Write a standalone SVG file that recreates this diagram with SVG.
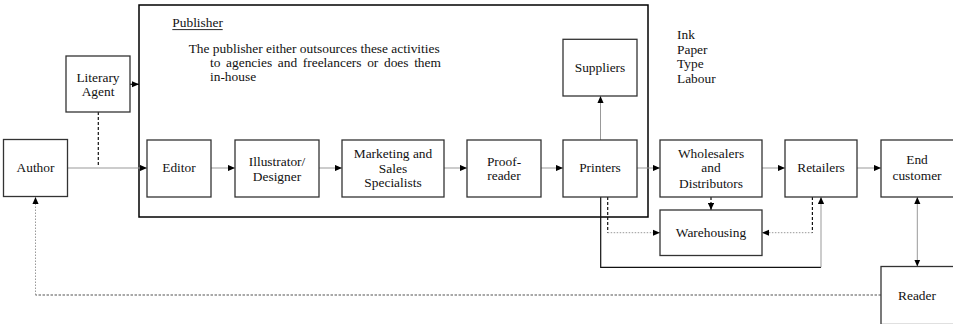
<svg xmlns="http://www.w3.org/2000/svg" width="953" height="324" viewBox="0 0 953 324">
  <defs>
    <marker id="arrow" viewBox="0 0 8 7" refX="8" refY="3.5" markerWidth="7" markerHeight="6.5" markerUnits="userSpaceOnUse" orient="auto-start-reverse">
      <path d="M0,0 L8,3.5 L0,7 z" fill="#000"/>
    </marker>
    <style>
      .box { fill: #fff; stroke: #333; stroke-width: 1.3; }
      .frame { fill: none; stroke: #000; stroke-width: 1.5; }
      .lbl { font-family: "Liberation Serif", "Times New Roman", serif; font-size: 13.4px; fill: #111; text-anchor: middle; }
      .txt { font-family: "Liberation Serif", "Times New Roman", serif; font-size: 13.4px; fill: #111; }
      .flow { fill: none; stroke: #999; stroke-width: 1; }
      .dark { fill: none; stroke: #111; stroke-width: 1.2; }
      .dash { fill: none; stroke: #111; stroke-width: 1.2; stroke-dasharray: 3 2; }
      .dot { fill: none; stroke: #999; stroke-width: 1; stroke-dasharray: 1.5 1.5; }
      .dotdark { fill: none; stroke: #555; stroke-width: 1.2; stroke-dasharray: 2.5 1.5; }
    </style>
  </defs>

  <!-- publisher frame -->
  <g id="publisher">
    <rect class="frame" x="139" y="5" width="509" height="212"/>
    <text class="txt" x="172.3" y="26.7">Publisher</text>
    <line x1="172.3" y1="29.6" x2="222.7" y2="29.6" stroke="#111" stroke-width="0.9"/>
    <text class="txt" x="188.7" y="52.7">The publisher either outsources these activities</text>
    <text class="txt" x="210" y="66.7" word-spacing="2.3">to agencies and freelancers or does them</text>
    <text class="txt" x="210" y="81">in-house</text>
  </g>

  <!-- supplier inputs -->
  <g id="inputs">
    <text class="txt" x="677" y="39.3">Ink</text>
    <text class="txt" x="677" y="54">Paper</text>
    <text class="txt" x="677" y="68.4">Type</text>
    <text class="txt" x="677" y="82.7">Labour</text>
  </g>

  <!-- connectors -->
  <g id="connectors">
    <path class="flow" d="M67.5,168 H147" marker-end="url(#arrow)"/>
    <path class="dash" d="M98.3,112 V167"/>
    <path class="dark" d="M130,84.3 H139" marker-end="url(#arrow)"/>
    <path class="flow" d="M211,168 H235" marker-end="url(#arrow)"/>
    <path class="flow" d="M319,168 H342" marker-end="url(#arrow)"/>
    <path class="flow" d="M444,168 H467" marker-end="url(#arrow)"/>
    <path class="flow" d="M541,168 H563" marker-end="url(#arrow)"/>
    <path class="flow" d="M600.5,140 V96" marker-end="url(#arrow)"/>
    <path class="flow" d="M637,168 H660" marker-end="url(#arrow)"/>
    <path class="flow" d="M762,168 H785" marker-end="url(#arrow)"/>
    <path class="flow" d="M857,168 H881" marker-end="url(#arrow)"/>
    <path class="dash" d="M711,197 V210" marker-end="url(#arrow)"/>
    <path class="dash" d="M607.7,197 V232.7"/>
    <path class="dot" d="M607.7,232.7 H660" marker-end="url(#arrow)"/>
    <path class="dash" d="M812.4,197 V232.7"/>
    <path class="dot" d="M812.4,232.7 H762" marker-end="url(#arrow)"/>
    <path class="dark" d="M600.7,197 V267.3 H821"/>
    <path class="flow" d="M821,267.3 V197" marker-end="url(#arrow)"/>
    <path class="flow" d="M917.3,197 V266.5" marker-start="url(#arrow)" marker-end="url(#arrow)"/>
    <path class="dotdark" d="M881,295 H35.5"/>
    <path class="dot" d="M35.5,295 V197" marker-end="url(#arrow)"/>
  </g>

  <g id="author">
    <rect class="box" x="3.5" y="139.5" width="64" height="57"/>
    <text class="lbl" x="35.5" y="172">Author</text>
  </g>
  <g id="literary-agent">
    <rect class="box" x="66" y="56" width="64" height="56"/>
    <text class="lbl" x="98" y="82.3">Literary</text>
    <text class="lbl" x="98" y="96">Agent</text>
  </g>
  <g id="editor">
    <rect class="box" x="147" y="140" width="64" height="57"/>
    <text class="lbl" x="179" y="172.3">Editor</text>
  </g>
  <g id="illustrator">
    <rect class="box" x="235" y="140" width="84" height="57"/>
    <text class="lbl" x="277" y="166">Illustrator/</text>
    <text class="lbl" x="277" y="180.5">Designer</text>
  </g>
  <g id="marketing">
    <rect class="box" x="342" y="140" width="102" height="57"/>
    <text class="lbl" x="393" y="158.3">Marketing and</text>
    <text class="lbl" x="393" y="172.7">Sales</text>
    <text class="lbl" x="393" y="187.3">Specialists</text>
  </g>
  <g id="proofreader">
    <rect class="box" x="467" y="140" width="74" height="57"/>
    <text class="lbl" x="504" y="165.7">Proof-</text>
    <text class="lbl" x="504" y="180.3">reader</text>
  </g>
  <g id="printers">
    <rect class="box" x="563" y="140" width="74" height="57"/>
    <text class="lbl" x="600" y="172.3">Printers</text>
  </g>
  <g id="suppliers">
    <rect class="box" x="563" y="39.3" width="74" height="56.7"/>
    <text class="lbl" x="600" y="71.7">Suppliers</text>
  </g>
  <g id="wholesalers">
    <rect class="box" x="660" y="140" width="102" height="57"/>
    <text class="lbl" x="711" y="157.7">Wholesalers</text>
    <text class="lbl" x="711" y="172.3">and</text>
    <text class="lbl" x="711" y="187.7">Distributors</text>
  </g>
  <g id="retailers">
    <rect class="box" x="785" y="140" width="72" height="57"/>
    <text class="lbl" x="821" y="172.3">Retailers</text>
  </g>
  <g id="end-customer">
    <rect class="box" x="881" y="140" width="74" height="57"/>
    <text class="lbl" x="917" y="164.3">End</text>
    <text class="lbl" x="917" y="180">customer</text>
  </g>
  <g id="warehousing">
    <rect class="box" x="660" y="210" width="102" height="45.5"/>
    <text class="lbl" x="711" y="236.7">Warehousing</text>
  </g>
  <g id="reader">
    <rect class="box" x="881" y="266.5" width="74" height="58"/>
    <text class="lbl" x="917" y="300">Reader</text>
  </g>
</svg>
